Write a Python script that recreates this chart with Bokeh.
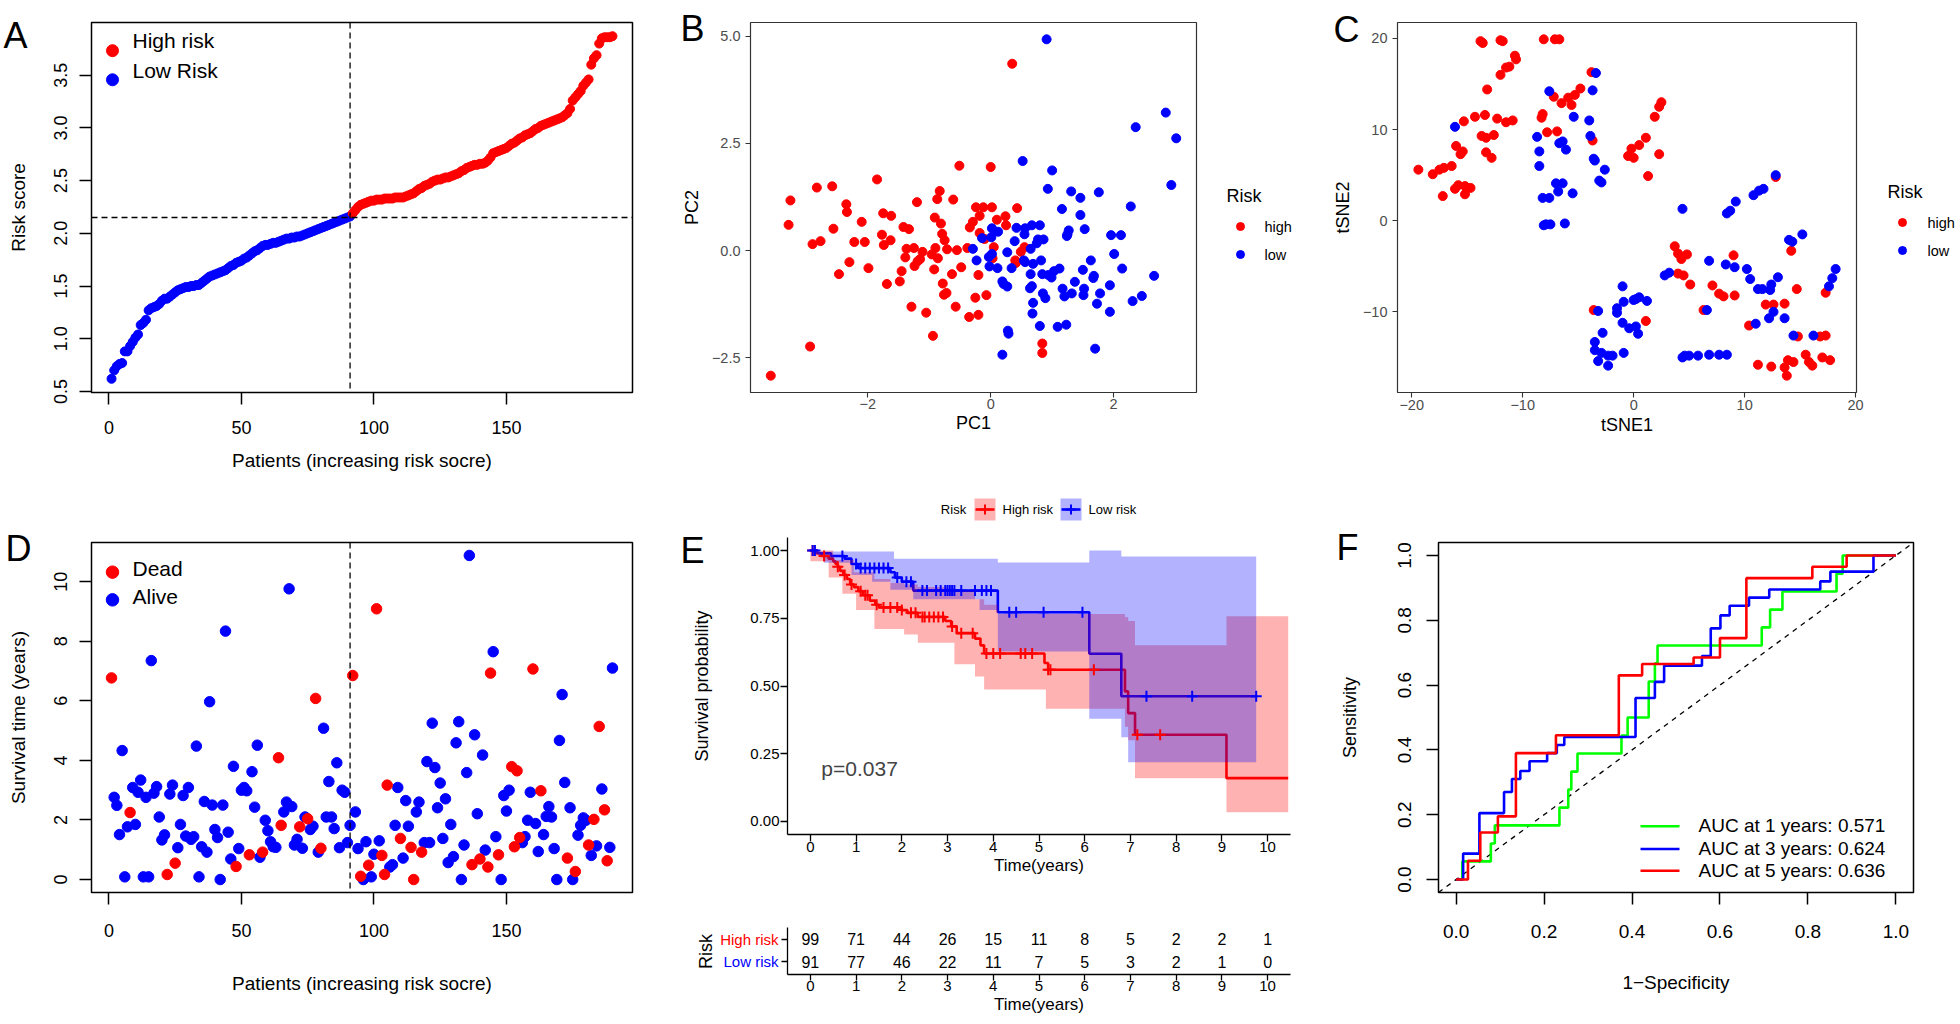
import math
from bokeh.plotting import figure
from bokeh.models import Range1d, FixedTicker, Label, Span, GridBox
from bokeh.layouts import row, column
from bokeh.core.properties import value
from bokeh.embed import file_html
from bokeh.resources import INLINE

FONT = "Liberation Sans"
RED, BLUE, GREEN = "#FF0000", "#0000FF", "#00FF00"

# ---------------- Panel A : risk score ----------------
risk_low = [0.62, 0.70, 0.74, 0.76, 0.77, 0.88, 0.88, 0.93, 0.97, 1.01,
            1.04, 1.13, 1.15, 1.18, 1.27, 1.29, 1.30, 1.31, 1.33, 1.36,
            1.38, 1.38, 1.40, 1.42, 1.44, 1.46, 1.47, 1.48, 1.49, 1.49,
            1.50, 1.50, 1.51, 1.51, 1.53, 1.55, 1.57, 1.59, 1.60, 1.61,
            1.62, 1.63, 1.64, 1.65, 1.67, 1.69, 1.70, 1.72, 1.73, 1.74,
            1.76, 1.77, 1.79, 1.81, 1.83, 1.84, 1.86, 1.88, 1.89, 1.89,
            1.90, 1.91, 1.91, 1.92, 1.93, 1.94, 1.95, 1.95, 1.96, 1.96,
            1.97, 1.97, 1.98, 1.99, 2.00, 2.01, 2.02, 2.03, 2.04, 2.05,
            2.06, 2.07, 2.08, 2.09, 2.10, 2.11, 2.12, 2.13, 2.14, 2.15,
            2.16]
risk_high = [2.19, 2.22, 2.25, 2.27, 2.28, 2.29, 2.30, 2.31, 2.31,
             2.32, 2.32, 2.32, 2.33, 2.33, 2.33, 2.33, 2.34, 2.34, 2.34,
             2.34, 2.35, 2.36, 2.37, 2.38, 2.40, 2.42, 2.43, 2.45, 2.46,
             2.47, 2.49, 2.50, 2.51, 2.51, 2.52, 2.53, 2.53, 2.54, 2.55,
             2.56, 2.57, 2.59, 2.60, 2.62, 2.63, 2.64, 2.65, 2.65, 2.66,
             2.66, 2.67, 2.69, 2.72, 2.76, 2.77, 2.78, 2.79, 2.80, 2.81,
             2.83, 2.85, 2.86, 2.88, 2.90, 2.91, 2.93, 2.94, 2.95, 2.97,
             2.99, 3.00, 3.02, 3.03, 3.04, 3.05, 3.06, 3.07, 3.08, 3.09,
             3.10, 3.12, 3.14, 3.18, 3.26, 3.29, 3.32, 3.35, 3.40, 3.43,
             3.46, 3.60, 3.66, 3.69, 3.80, 3.85, 3.86, 3.86, 3.86, 3.87]
risk_cutoff = 2.15
a_xticks = [0, 50, 100, 150]
a_yticks = [0.5, 1.0, 1.5, 2.0, 2.5, 3.0, 3.5]

# ---------------- Panel D : survival status ----------------
surv_time = [6.77, 2.76, 2.49, 1.51, 4.33, 0.09, 1.77, 2.25, 3.09, 1.85,
             2.93, 3.34, 0.09, 2.76, 0.09, 7.35, 2.90, 3.12, 2.10, 1.33,
             1.50, 0.17, 2.87, 3.17, 0.55, 1.07, 1.85, 2.82, 1.46, 3.09,
             1.35, 1.44, 4.48, 0.09, 1.10, 2.62, 0.92, 5.97, 2.50, 1.68,
             1.41, 0.00, 2.50, 8.34, 1.59, 0.69, 3.80, 0.44, 1.04, 3.00,
             3.09, 2.98, 0.83, 3.62, 2.43, 4.51, 0.75, 0.92, 1.99, 1.64,
             1.27, 1.10, 1.08, 4.09, 1.82, 2.27, 2.60, 9.76, 2.45, 1.16,
             1.35, 1.77, 1.05, 2.10, 2.04, 1.68, 1.79, 6.08, 0.92, 1.05,
             5.08, 2.10, 3.29, 2.10, 1.71, 3.92, 1.07, 3.00, 2.93, 1.24,
             1.82, 6.85, 2.27, 1.04, 0.11, 0.00, 1.27, 0.48, 0.09, 0.85,
             9.09, 1.30, 0.81, 0.17, 3.17, 0.42, 0.50, 1.82, 3.09, 1.38,
             0.72, 2.65, 1.79, 1.08, 0.00, 2.27, 2.60, 0.92, 1.24, 3.96,
             1.24, 5.25, 3.76, 2.41, 3.24, 1.38, 2.71, 0.57, 1.85, 0.77,
             4.59, 5.30, 0.00, 1.16, 3.59, 10.88, 0.50, 4.86, 2.21, 0.69,
             4.18, 0.99, 0.42, 6.93, 7.65, 1.44, 0.83, 0.00, 2.82, 2.30,
             3.00, 3.79, 1.10, 3.65, 1.41, 1.24, 1.44, 1.99, 2.93, 7.07,
             1.88, 0.94, 2.98, 1.51, 2.12, 2.45, 2.10, 1.04, 0.00, 4.67,
             6.21, 3.26, 0.72, 2.41, 0.00, 0.27, 1.49, 1.82, 2.07, 1.99,
             1.16, 0.81, 2.02, 1.13, 5.14, 3.04, 2.34, 0.63, 1.08, 7.10]
surv_dead = [1, 0, 0, 0, 0, 0, 0, 1, 0, 0,
             0, 0, 0, 0, 0, 0, 0, 0, 0, 0,
             0, 1, 0, 0, 1, 0, 0, 0, 0, 0,
             0, 0, 0, 0, 0, 0, 0, 0, 0, 0,
             0, 0, 0, 0, 0, 0, 0, 1, 0, 0,
             0, 0, 1, 0, 0, 0, 0, 1, 0, 0,
             0, 0, 0, 1, 1, 0, 0, 0, 0, 0,
             0, 1, 0, 0, 1, 0, 0, 1, 0, 1,
             0, 0, 0, 0, 0, 0, 0, 0, 0, 0,
             0, 1, 0, 0, 1, 0, 0, 1, 0, 0,
             1, 0, 1, 1, 1, 0, 0, 0, 0, 1,
             0, 0, 0, 1, 1, 0, 0, 1, 0, 0,
             0, 0, 0, 0, 0, 0, 0, 0, 0, 0,
             0, 0, 0, 0, 0, 0, 1, 0, 0, 1,
             0, 0, 1, 1, 0, 0, 1, 0, 0, 0,
             0, 1, 1, 1, 1, 0, 0, 0, 0, 1,
             0, 0, 1, 0, 0, 0, 0, 0, 0, 0,
             0, 0, 1, 0, 0, 1, 0, 0, 0, 0,
             1, 0, 1, 0, 1, 0, 1, 1, 0, 0]
d_yticks = [0, 2, 4, 6, 8, 10]

# ---------------- Panel B : PCA ----------------
pca_high_x = [-3.58, -3.29, -3.26, -2.94, -2.90, -2.83, -2.77, -2.58, -2.56, -2.47,
              -2.35, -2.34, -2.30, -2.22, -2.10, -2.05, -1.99, -1.85, -1.77, -1.75,
              -1.74, -1.69, -1.63, -1.62, -1.48, -1.45, -1.42, -1.39, -1.37, -1.33,
              -1.29, -1.25, -1.24, -1.20, -1.19, -1.15, -1.11, -1.05, -0.96, -0.94,
              -0.92, -0.91, -0.90, -0.87, -0.86, -0.83, -0.81, -0.79, -0.78, -0.76,
              -0.75, -0.72, -0.71, -0.63, -0.61, -0.57, -0.55, -0.51, -0.48, -0.38,
              -0.35, -0.34, -0.29, -0.25, -0.24, -0.20, -0.20, -0.18, -0.18, -0.12,
              -0.10, -0.07, 0.00, 0.02, 0.03, 0.05, 0.10, 0.24, 0.25, 0.35,
              0.40, 0.41, 0.43, 0.49, 0.55, 0.84, 0.84]
pca_high_y = [-2.92, 0.60, 1.17, -2.24, 0.15, 1.47, 0.22, 1.50, 0.51, -0.55,
              1.08, 0.90, -0.27, 0.20, 0.67, 0.20, -0.41, 1.66, 0.37, 0.87,
              0.13, -0.78, 0.24, 0.81, -0.72, -0.48, 0.55, -0.16, 0.04, 0.50,
              -1.31, 0.06, -0.36, 1.13, -0.25, -0.20, -0.03, -1.45, -0.09, -1.99,
              -0.44, 0.77, 0.06, 1.20, -0.18, 1.39, 0.63, 0.39, -0.77, -1.03,
              0.24, -0.99, 0.03, -0.55, 1.19, -1.31, 0.01, 1.98, -0.39, 0.06,
              -1.55, 0.54, 0.67, -1.10, 1.01, -1.50, -0.57, 0.81, 0.41, 1.01,
              0.27, -1.04, 1.95, 1.01, -0.18, 0.08, 0.72, 0.80, 0.59, 4.36,
              -0.23, -0.29, 0.99, -0.03, 0.08, -2.17, -2.39]
pca_low_x = [0.91, 2.85, 2.36, 3.02, 0.52, 1.00, 2.94, 0.93, 1.31, 1.76,
             1.46, 2.28, 1.16, 1.46, 0.02, 0.12, 0.42, 0.56, 0.67, 0.80,
             1.27, 1.25, 1.24, 1.53, 1.96, 2.12, 0.55, 0.01, -0.14, 0.77,
             0.86, 0.39, 0.75, -0.29, 0.65, 0.27, 0.02, -0.03, 2.01, -0.23,
             0.54, 0.82, 1.63, 0.56, 0.69, -0.02, 0.11, 0.34, 1.12, 2.14,
             1.03, 1.50, 0.65, 0.84, 0.94, 0.99, 1.68, 1.67, 2.66, 0.19,
             0.21, 0.27, 1.37, 1.94, 0.64, 0.67, 1.17, 1.52, 0.85, 1.32,
             1.78, 0.89, 1.20, 1.51, 2.46, 0.69, 1.73, 2.31, 0.68, 1.94,
             0.80, 1.09, 1.23, 0.28, 0.29, 1.70, 0.19]
pca_low_y = [4.93, 3.22, 2.88, 2.62, 2.09, 1.87, 1.53, 1.44, 1.38, 1.36,
             1.23, 1.03, 0.97, 0.83, 0.52, 0.44, 0.53, 0.52, 0.59, 0.59,
             0.47, 0.38, 0.34, 0.50, 0.36, 0.36, 0.38, 0.31, 0.29, 0.26,
             0.26, 0.22, 0.17, 0.04, 0.04, -0.04, -0.08, -0.15, -0.08, -0.23,
             -0.23, -0.23, -0.23, -0.27, -0.31, -0.37, -0.41, -0.41, -0.42, -0.42,
             -0.48, -0.45, -0.55, -0.55, -0.57, -0.63, -0.59, -0.64, -0.59, -0.72,
             -0.78, -0.84, -0.73, -0.81, -0.88, -0.83, -0.89, -0.89, -1.00, -1.00,
             -1.00, -1.11, -1.07, -1.04, -1.06, -1.22, -1.24, -1.18, -1.47, -1.43,
             -1.76, -1.78, -1.73, -1.87, -1.94, -2.29, -2.43]
b_xticks = [-2, 0, 2]
b_xlabels = ["\u22122", "0", "2"]
b_yticks = [-2.5, 0.0, 2.5, 5.0]
b_ylabels = ["\u22122.5", "0.0", "2.5", "5.0"]

# ---------------- Panel C : tSNE ----------------
tsne_high_x = [-19.4, -18.1, -17.5, -17.1, -17.2, -16.4, -16.1, -16.0, -15.8, -15.6,
               -15.4, -15.3, -15.2, -15.2, -14.7, -14.3, -13.8, -13.6, -13.4, -13.7,
               -13.3, -13.3, -13.2, -12.8, -12.6, -12.3, -12.0, -12.0, -11.8, -11.5,
               -11.5, -11.2, -10.9, -10.7, -10.6, -8.3, -8.2, -8.1, -7.8, -7.1,
               -6.7, -6.9, -7.2, -6.5, -5.9, -5.6, -5.3, -4.8, -3.8, -3.7,
               -0.5, -0.2, 0.0, 0.5, 1.1, 1.3, 1.9, 2.3, 2.5, 2.3,
               3.7, 4.0, 4.3, 4.8, 4.0, 4.5, 5.1, -3.6, 1.1, 6.3,
               7.1, 7.7, 8.1, 9.0, 9.1, 10.4, 11.9, 12.6, 12.8, 13.6,
               14.2, 14.7, 14.8, 16.8, 17.3, 17.3, 11.2, 12.4, 13.6, 13.8,
               13.9, 14.4, 15.5, 15.8, 16.1, 17.0, 17.7]
tsne_high_y = [5.6, 5.1, 5.6, 5.8, 2.7, 6.0, 3.5, 8.2, 3.9, 7.3,
               7.6, 10.9, 3.8, 2.9, 3.6, 11.4, 19.7, 19.5, 11.6, 9.3,
               9.1, 7.5, 14.4, 6.9, 9.4, 11.2, 16.0, 19.8, 19.7, 10.8,
               16.8, 16.9, 11.0, 18.1, 17.7, 11.3, 11.7, 19.9, 9.7, 19.9,
               19.9, 9.8, 13.6, 12.9, 13.5, 12.7, 13.8, 14.5, 16.3, 8.8,
               7.1, 7.9, 6.9, 8.3, 9.1, 4.9, 11.4, 12.5, 13.0, 7.3,
               -2.8, -3.6, -4.2, -3.7, -5.8, -6.0, -7.0, -9.8, -11.0, -9.8,
               -7.1, -8.0, -8.3, -3.8, -8.2, -11.5, -9.2, -9.2, 4.8, -9.1,
               -3.3, -7.5, -12.7, -12.7, -12.6, -7.9, -15.8, -16.0, -16.1, -17.0,
               -15.3, -15.5, -14.7, -15.5, -15.9, -15.0, -15.3]
tsne_low_x = [-16.1, -8.7, -8.5, -8.5, -7.6, -6.7, -6.4, -6.1, -5.4, -4.0,
              -3.9, -3.7, -3.4, -3.6, -3.5, -2.6, -3.1, -2.9, -7.0, -6.4,
              -6.8, -5.5, -8.2, -7.6, -8.1, -7.9, -7.5, -6.2, 4.4, 8.4,
              8.7, 9.2, 10.8, 11.3, 11.7, 12.8, 14.0, 14.3, 15.2, 6.8,
              8.3, 9.1, 10.2, 2.8, 3.2, 10.5, 13.0, 12.4, 18.2, 17.9,
              17.6, 11.2, 11.6, 12.3, -1.0, -0.9, 0.2, 0.5, 1.2, 0.0,
              -3.2, -1.5, -1.5, -1.0, -0.4, 0.2, 0.4, -2.8, -3.5, -3.5,
              -2.9, -3.2, -2.3, -1.9, -2.3, -0.9, 6.6, 11.0, 12.6, 12.2,
              13.6, 14.4, 16.2, 4.4, 4.6, 5.0, 5.8, 6.8, 7.7, 8.4]
tsne_low_y = [10.3, 9.2, 7.6, 6.0, 14.2, 8.5, 8.7, 7.8, 11.4, 11.0,
              9.3, 14.3, 16.2, 6.8, 6.6, 5.6, 4.4, 4.2, 4.1, 4.1,
              3.2, 3.0, 2.5, 2.5, -0.5, -0.4, -0.4, -0.3, 1.3, 0.8,
              1.1, 2.1, 2.8, 3.3, 3.5, 5.0, -2.1, -2.3, -1.5, -4.4,
              -4.8, -5.1, -5.3, -6.0, -5.7, -6.4, -6.2, -7.0, -5.3, -6.3,
              -7.2, -7.5, -7.5, -7.6, -7.2, -8.9, -8.6, -8.4, -8.8, -8.7,
              -9.9, -9.6, -10.1, -11.2, -11.8, -11.6, -12.4, -12.3, -13.3, -14.2,
              -14.5, -15.4, -14.8, -14.8, -15.9, -14.5, -9.8, -11.3, -10.0, -10.7,
              -10.7, -12.6, -12.6, -15.0, -14.8, -14.8, -14.8, -14.7, -14.7, -14.7]
c_xticks = [-20, -10, 0, 10, 20]
c_xlabels = ["\u221220", "\u221210", "0", "10", "20"]
c_yticks = [-10, 0, 10, 20]
c_ylabels = ["\u221210", "0", "10", "20"]
risk_groups = ["high", "low"]

# ---------------- Panel E : Kaplan-Meier ----------------
hr_t = [0.0, 0.1, 0.25, 0.4, 0.5, 0.55, 0.6, 0.65, 0.72, 0.8, 0.87, 0.95, 1.05, 1.15, 1.3, 1.42,
        1.5, 2.0, 2.12, 2.35, 2.95, 3.08, 3.2, 3.6, 3.72, 3.8, 5.12, 5.2, 6.88, 6.95, 7.1, 9.1]
hr_s = [1.0, 0.99, 0.98, 0.97, 0.96, 0.95, 0.94, 0.925, 0.91, 0.895, 0.875, 0.865, 0.85, 0.835, 0.815, 0.80,
        0.79, 0.78, 0.77, 0.755, 0.74, 0.72, 0.695, 0.675, 0.65, 0.62, 0.585, 0.56, 0.48, 0.40, 0.32, 0.16]
hr_end = 10.45
lr_t = [0.0, 0.15, 0.45, 0.75, 0.9, 1.05, 1.75, 1.85, 2.0, 2.25, 4.1, 6.1, 6.8]
lr_s = [1.0, 0.99, 0.98, 0.97, 0.95, 0.935, 0.92, 0.90, 0.885, 0.852, 0.772, 0.619, 0.462]
lr_end = 9.75
hr_ci_t = [0.0, 0.4, 0.5, 0.7, 0.95, 1.0, 1.4, 1.75, 2.05, 2.35, 3.0, 3.15, 3.6, 3.8, 4.1, 5.15, 6.88, 6.95, 7.1, 9.1]
hr_ci_hi = [1.0, 1.0, 0.965, 0.965, 0.92, 0.92, 0.895, 0.88, 0.875, 0.865, 0.85, 0.85, 0.82, 0.80, 0.766, 0.766,
            0.755, 0.74, 0.65, 0.757]
hr_ci_lo = [0.96, 0.90, 0.90, 0.84, 0.84, 0.78, 0.71, 0.71, 0.69, 0.66, 0.66, 0.58, 0.535, 0.487, 0.487, 0.416,
            0.35, 0.30, 0.16, 0.034]
lr_ci_t = [0.0, 0.2, 0.3, 0.9, 1.35, 1.75, 1.83, 2.25, 3.7, 4.1, 6.1, 6.8, 6.95]
lr_ci_hi = [1.0, 0.996, 0.996, 0.996, 0.996, 0.996, 0.97, 0.97, 0.97, 0.956, 1.0, 0.978, 0.978]
lr_ci_lo = [1.0, 0.975, 0.955, 0.91, 0.885, 0.855, 0.855, 0.82, 0.78, 0.627, 0.379, 0.311, 0.219]
hr_cens = [0.05, 0.3, 0.6, 0.75, 0.9, 1.1, 1.2, 1.25, 1.45, 1.6, 1.75, 1.9, 2.0, 2.2, 2.3, 2.45, 2.5, 2.6,
           2.7, 2.8, 2.9, 3.1, 3.3, 3.55, 3.85, 4.0, 4.15, 4.6, 4.7, 4.85, 5.2, 5.25, 6.2, 7.15, 7.65]
lr_cens = [0.05, 0.1, 0.7, 1.0, 1.1, 1.2, 1.3, 1.4, 1.5, 1.6, 1.7, 1.9, 2.1, 2.2, 2.45, 2.55, 2.75, 2.85,
           2.95, 3.0, 3.05, 3.1, 3.15, 3.3, 3.6, 3.75, 3.85, 3.95, 4.35, 4.5, 5.1, 5.95, 7.35, 8.35, 9.75]
km_ticks = [0, 1, 2, 3, 4, 5, 6, 7, 8, 9, 10]
km_yticks = [0.0, 0.25, 0.5, 0.75, 1.0]
km_groups = ["High risk", "Low risk"]
p_value_text = "p=0.037"
risk_times = [0, 1, 2, 3, 4, 5, 6, 7, 8, 9, 10]
risk_high_n = [99, 71, 44, 26, 15, 11, 8, 5, 2, 2, 1]
risk_low_n = [91, 77, 46, 22, 11, 7, 5, 3, 2, 1, 0]

# ---------------- Panel F : time-dependent ROC ----------------
roc1_fpr = [0, 0.014, 0.014, 0.079, 0.079, 0.088, 0.088, 0.235, 0.235, 0.255, 0.255, 0.262, 0.262, 0.276,
            0.276, 0.376, 0.376, 0.39, 0.39, 0.438, 0.438, 0.452, 0.452, 0.458, 0.458, 0.695, 0.695, 0.714,
            0.714, 0.742, 0.742, 0.865, 0.865, 0.879, 0.879, 1.0]
roc1_tpr = [0, 0, 0.056, 0.056, 0.111, 0.111, 0.167, 0.167, 0.222, 0.222, 0.278, 0.278, 0.333, 0.333,
            0.389, 0.389, 0.444, 0.444, 0.5, 0.5, 0.611, 0.611, 0.667, 0.667, 0.722, 0.722, 0.778, 0.778,
            0.833, 0.833, 0.889, 0.889, 0.944, 0.944, 1.0, 1.0]
roc3_fpr = [0, 0.016, 0.016, 0.053, 0.053, 0.109, 0.109, 0.127, 0.127, 0.146, 0.146, 0.167, 0.167, 0.207,
            0.207, 0.229, 0.229, 0.246, 0.246, 0.408, 0.408, 0.452, 0.452, 0.473, 0.473, 0.559, 0.559, 0.579,
            0.579, 0.601, 0.601, 0.622, 0.622, 0.666, 0.666, 0.712, 0.712, 0.828, 0.828, 0.851, 0.851, 0.949,
            0.949, 1.0]
roc3_tpr = [0, 0, 0.08, 0.08, 0.205, 0.205, 0.27, 0.27, 0.31, 0.31, 0.335, 0.335, 0.365, 0.365,
            0.39, 0.39, 0.415, 0.415, 0.44, 0.44, 0.56, 0.56, 0.61, 0.61, 0.66, 0.66, 0.69, 0.69,
            0.775, 0.775, 0.815, 0.815, 0.845, 0.845, 0.87, 0.87, 0.895, 0.895, 0.92, 0.92, 0.95, 0.95,
            1.0, 1.0]
roc5_fpr = [0, 0.027, 0.027, 0.055, 0.055, 0.095, 0.095, 0.136, 0.136, 0.227, 0.227, 0.37, 0.37, 0.423,
            0.423, 0.54, 0.54, 0.6, 0.6, 0.66, 0.66, 0.81, 0.81, 0.888, 0.888, 1.0]
roc5_tpr = [0, 0, 0.058, 0.058, 0.145, 0.145, 0.195, 0.195, 0.39, 0.39, 0.445, 0.445, 0.63, 0.63,
            0.665, 0.665, 0.685, 0.685, 0.745, 0.745, 0.93, 0.93, 0.965, 0.965, 1.0, 1.0]
roc_labels = ["AUC at 1 years: 0.571", "AUC at 3 years: 0.624", "AUC at 5 years: 0.636"]
f_ticks = [0.0, 0.2, 0.4, 0.6, 0.8, 1.0]
panel_letters = ["A", "B", "C", "D", "E", "F"]


# ======================= helpers =======================
class Pan:
    def __init__(self, outer, frame, xr, yr):
        ox, oy, w, h = outer
        fl, ft, fr, fb = frame
        self.fl, self.ft, self.fr, self.fb = fl, ft, fr, fb
        self.xr, self.yr = xr, yr
        p = figure(width=w, height=h, x_range=Range1d(*xr), y_range=Range1d(*yr),
                   output_backend="svg", toolbar_location=None,
                   min_border_left=fl - ox, min_border_right=ox + w - fr,
                   min_border_top=ft - oy, min_border_bottom=oy + h - fb)
        p.grid.visible = False
        p.outline_line_color = None
        p.background_fill_color = "white"
        p.border_fill_color = "white"
        self.p = p

    def dx(self, X):
        return self.xr[0] + (X - self.fl) / (self.fr - self.fl) * (self.xr[1] - self.xr[0])

    def dy(self, Y):
        return self.yr[0] + (self.fb - Y) / (self.fb - self.ft) * (self.yr[1] - self.yr[0])

    def label(self, X, Y, text, size, color="black", align="left", baseline="middle"):
        self.p.add_layout(Label(x=X - self.fl, y=self.fb - Y, x_units="screen", y_units="screen",
                                text=text, text_font=FONT, text_font_size=f"{size}px",
                                text_color=color, text_align=align, text_baseline=baseline))


def style_axis(ax, ticks, labels, tick_len, lab_size, lab_std, title, title_size, title_std,
               color="black", lab_color="black", line=None, width=1.5, orient="horizontal"):
    ax.ticker = FixedTicker(ticks=list(ticks))
    ax.major_label_overrides = {t: l for t, l in zip(ticks, labels)}
    ax.major_tick_out = tick_len
    ax.major_tick_in = 0
    ax.major_tick_line_color = color
    ax.major_tick_line_width = width
    ax.minor_tick_line_color = None
    ax.axis_line_color = line
    ax.axis_line_width = width
    ax.major_label_text_font = FONT
    ax.major_label_text_font_size = f"{lab_size}px"
    ax.major_label_text_color = lab_color
    ax.major_label_standoff = int(lab_std)
    ax.major_label_orientation = orient
    ax.axis_label = title
    ax.axis_label_text_font = FONT
    ax.axis_label_text_font_size = f"{title_size}px"
    ax.axis_label_text_font_style = "normal"
    ax.axis_label_text_color = "black"
    ax.axis_label_standoff = int(title_std)


def r_range(vals, frac=0.04):
    lo, hi = min(vals), max(vals)
    pad = (hi - lo) * frac
    return (lo - pad, hi + pad)


def step_xy(ts, vs, t_end):
    xs, ys = [], []
    for i, (t, v) in enumerate(zip(ts, vs)):
        nxt = ts[i + 1] if i + 1 < len(ts) else t_end
        xs += [t, nxt]
        ys += [v, v]
    return xs, ys


def step_value(ts, vs, t):
    out = vs[0]
    for ti, vi in zip(ts, vs):
        if ti <= t:
            out = vi
    return out


# ======================= Panel A =======================
n_pat = len(risk_low) + len(risk_high)
idx_all = list(range(1, n_pat + 1))
pat_xr = (1 - 0.04 * (n_pat - 1), n_pat + 0.04 * (n_pat - 1))
A = Pan((0, 0, 670, 490), (91, 11, 632, 392), pat_xr, r_range(risk_low + risk_high))
pA = A.p
pA.outline_line_color = "black"
pA.outline_line_width = 1.5
style_axis(pA.xaxis[0], a_xticks, [str(t) for t in a_xticks], 12, 18, 16,
           "Patients (increasing risk socre)", 19, 13)
style_axis(pA.yaxis[0], a_yticks, [f"{t:.1f}" for t in a_yticks], 12, 18, 12,
           "Risk score", 19, 23, orient="vertical")
nl = len(risk_low)
pA.scatter(idx_all[:nl], risk_low, size=9, color=BLUE)
pA.scatter(idx_all[nl:], risk_high, size=9, color=RED)
pA.add_layout(Span(location=nl, dimension="height", line_color="black", line_dash="6 4", line_width=1.3))
pA.add_layout(Span(location=risk_cutoff, dimension="width", line_color="black", line_dash="6 4", line_width=1.3))
pA.scatter([A.dx(112)], [A.dy(40)], size=12, color=RED)
pA.scatter([A.dx(112)], [A.dy(70)], size=12, color=BLUE)
A.label(132, 40, "High risk", 21)
A.label(132, 70, "Low Risk", 21)

# ======================= Panel D =======================
D = Pan((0, 490, 670, 534), (91, 542, 632, 896), pat_xr, r_range(surv_time))
pD = D.p
pD.outline_line_color = "black"
pD.outline_line_width = 1.5
style_axis(pD.xaxis[0], a_xticks, [str(t) for t in a_xticks], 12, 18, 19,
           "Patients (increasing risk socre)", 19, 33)
style_axis(pD.yaxis[0], d_yticks, [str(t) for t in d_yticks], 12, 18, 12,
           "Survival time (years)", 19, 23, orient="vertical")
dead_x = [i for i, s in zip(idx_all, surv_dead) if s == 1]
dead_y = [t for t, s in zip(surv_time, surv_dead) if s == 1]
alive_x = [i for i, s in zip(idx_all, surv_dead) if s == 0]
alive_y = [t for t, s in zip(surv_time, surv_dead) if s == 0]
pD.scatter(alive_x, alive_y, size=10.5, color=BLUE)
pD.scatter(dead_x, dead_y, size=10.5, color=RED)
pD.add_layout(Span(location=nl, dimension="height", line_color="black", line_dash="6 4", line_width=1.3))
pD.scatter([D.dx(112)], [D.dy(572)], size=12.5, color=RED)
pD.scatter([D.dx(112)], [D.dy(600)], size=12.5, color=BLUE)
D.label(132, 572, "Dead", 21)
D.label(132, 600, "Alive", 21)

# ======================= Panel B =======================
B = Pan((670, 0, 650, 490), (750, 22, 1196, 431),
        r_range(pca_high_x + pca_low_x, 0.05), r_range(pca_high_y + pca_low_y, 0.05))
pB = B.p
pB.outline_line_color = "#333333"
pB.outline_line_width = 1.2
style_axis(pB.xaxis[0], b_xticks, b_xlabels, 5, 14.5, 1, "PC1", 18, 1,
           color="#333333", lab_color="#4D4D4D", width=1.1)
style_axis(pB.yaxis[0], b_yticks, b_ylabels, 5, 14.5, 5, "PC2", 18, 7,
           color="#333333", lab_color="#4D4D4D", width=1.1)
pB.scatter(pca_high_x, pca_high_y, size=9, color=RED)
pB.scatter(pca_low_x, pca_low_y, size=9, color=BLUE)

# ======================= Panel C =======================
C = Pan((1320, 0, 640, 490), (1397, 17, 1856, 428),
        r_range(tsne_high_x + tsne_low_x, 0.05), r_range(tsne_high_y + tsne_low_y, 0.05))
pC = C.p
pC.outline_line_color = "#333333"
pC.outline_line_width = 1.2
style_axis(pC.xaxis[0], c_xticks, c_xlabels, 5, 14.5, 2, "tSNE1", 18, 2,
           color="#333333", lab_color="#4D4D4D", width=1.1)
style_axis(pC.yaxis[0], c_yticks, c_ylabels, 5, 14.5, 5, "tSNE2", 18, 7,
           color="#333333", lab_color="#4D4D4D", width=1.1)
pC.scatter(tsne_high_x, tsne_high_y, size=9, color=RED)
pC.scatter(tsne_low_x, tsne_low_y, size=9, color=BLUE)

# ======================= Panel E =======================
E = Pan((670, 490, 650, 390), (787, 537, 1290, 834), (-0.5, 10.5), (-0.048, 1.048))
pE = E.p
style_axis(pE.xaxis[0], km_ticks, [str(t) for t in km_ticks], 7, 15, 0, "Time(years)", 17, 1, line="black", width=1.3)
style_axis(pE.yaxis[0], km_yticks, [f"{t:.2f}" for t in km_yticks], 7, 15, 1, "Survival probability", 18, 35,
           line="black", width=1.3)
hx, hy = step_xy(hr_t, hr_s, hr_end)
lx, ly = step_xy(lr_t, lr_s, lr_end)
pE.line(hx, hy, line_color=RED, line_width=2.6)
pE.line(lx, ly, line_color=BLUE, line_width=2.6)
hcx, hcu = step_xy(hr_ci_t, hr_ci_hi, hr_end)
_, hcl = step_xy(hr_ci_t, hr_ci_lo, hr_end)
lcx, lcu = step_xy(lr_ci_t, lr_ci_hi, lr_end)
_, lcl = step_xy(lr_ci_t, lr_ci_lo, lr_end)
pE.varea(x=hcx, y1=hcl, y2=hcu, fill_color=RED, fill_alpha=0.3)
pE.varea(x=lcx, y1=lcl, y2=lcu, fill_color=BLUE, fill_alpha=0.3)
pE.scatter(hr_cens, [step_value(hr_t, hr_s, t) for t in hr_cens], marker="cross", size=11,
           line_color=RED, line_width=2)
pE.scatter(lr_cens, [step_value(lr_t, lr_s, t) for t in lr_cens], marker="cross", size=11,
           line_color=BLUE, line_width=2)
pE.add_layout(Label(x=0.24, y=0.196, text=p_value_text, text_font=FONT, text_font_size="21px",
                    text_baseline="middle", text_align="left"))

# ======================= risk table =======================
T = Pan((670, 880, 650, 144), (787, 927, 1290, 974), (-0.5, 10.5), (0.41, 2.545))
pT = T.p
style_axis(pT.xaxis[0], km_ticks, [str(t) for t in km_ticks], 6, 15, 0, "Time(years)", 17, 1, line="black", width=1.3)
style_axis(pT.yaxis[0], [1, 2], ["", ""], 6, 10, 0, None, 10, 0, line="black", width=1.3)
pT.text(x=risk_times, y=[2] * len(risk_times), text=[str(v) for v in risk_high_n],
        text_font=value(FONT), text_font_size=value("16px"), text_align="center", text_baseline="middle")
pT.text(x=risk_times, y=[1] * len(risk_times), text=[str(v) for v in risk_low_n],
        text_font=value(FONT), text_font_size=value("16px"), text_align="center", text_baseline="middle")

# ======================= Panel F =======================
F = Pan((1320, 490, 640, 534), (1438, 538, 1913, 892), (-0.04, 1.04), (-0.04, 1.04))
pF = F.p
pF.outline_line_color = "black"
pF.outline_line_width = 1.5
style_axis(pF.xaxis[0], f_ticks, [f"{t:.1f}" for t in f_ticks], 12, 19, 20, "1\u2212Specificity", 19, 31)
style_axis(pF.yaxis[0], f_ticks, [f"{t:.1f}" for t in f_ticks], 12, 19, 15, "Sensitivity", 18, 36, orient="vertical")
pF.line([-0.04, 1.04], [-0.04, 1.04], line_color="black", line_dash="5 5", line_width=1.3)
pF.line(roc1_fpr, roc1_tpr, line_color=GREEN, line_width=2.6)
pF.line(roc3_fpr, roc3_tpr, line_color=BLUE, line_width=2.6)
pF.line(roc5_fpr, roc5_tpr, line_color=RED, line_width=2.6)
for Yl, col, txt in zip([825, 848, 870], [GREEN, BLUE, RED], roc_labels):
    pF.line([F.dx(1640), F.dx(1679)], [F.dy(Yl), F.dy(Yl)], line_color=col, line_width=2.6)
    F.label(1698, Yl, txt, 19)

# ======================= overlay: letters & outside legends (page pixels) =======================
ov = figure(width=1960, height=1024, x_range=Range1d(0, 1960), y_range=Range1d(1024, 0),
            output_backend="svg", toolbar_location=None, x_axis_type=None, y_axis_type=None,
            min_border=0, min_border_left=0, min_border_right=0, min_border_top=0, min_border_bottom=0)
ov.outline_line_color = None
ov.background_fill_color = None
ov.border_fill_color = None
ov.grid.visible = False


def ov_text(xs, ys, texts, size, color="black", align="left", baseline="middle", angle=0.0):
    ov.text(x=xs, y=ys, text=texts, text_font=value(FONT), text_font_size=value(f"{size}px"),
            text_color=color, text_align=align, text_baseline=baseline, angle=angle)


# panel letters
ov_text([3, 680, 1333, 5, 680, 1336], [35, 28, 29, 548, 550, 547], panel_letters, 36, baseline="alphabetic")
# B / C legends
ov_text([1226, 1887], [195, 191], ["Risk", "Risk"], 18)
ov.scatter([1240, 1240], [226, 254], size=8, color=[RED, BLUE])
ov.scatter([1902, 1902], [222, 250], size=8, color=[RED, BLUE])
ov_text([1264, 1264], [226, 254], risk_groups, 14.5)
ov_text([1927, 1927], [222, 250], risk_groups, 14.5)
# E legend
ov_text([953], [509], ["Risk"], 13, align="center")
ov.quad(left=[974, 1060], right=[995, 1081], top=[498, 498], bottom=[520, 520],
        fill_color=[RED, BLUE], fill_alpha=0.3, line_color=None)
ov.segment(x0=[975, 1061], y0=[509, 509], x1=[994, 1080], y1=[509, 509], line_color=[RED, BLUE], line_width=2.6)
ov.scatter([984.5, 1070.5], [509, 509], marker="cross", size=10, line_color=[RED, BLUE], line_width=2)
ov_text([1002, 1088], [509, 509], km_groups, 13)
# risk table labels
ov_text([778], [939], [km_groups[0]], 15, color=RED, align="right")
ov_text([778], [961], [km_groups[1]], 15, color=BLUE, align="right")
ov_text([705], [951], ["Risk"], 18, align="center", angle=math.pi / 2)

main = column(row(pA, pB, pC), row(pD, column(pE, pT), pF))
grid = GridBox(children=[(main, 0, 0), (ov, 0, 0)])
open("out.html", "w").write(file_html(grid, INLINE))
